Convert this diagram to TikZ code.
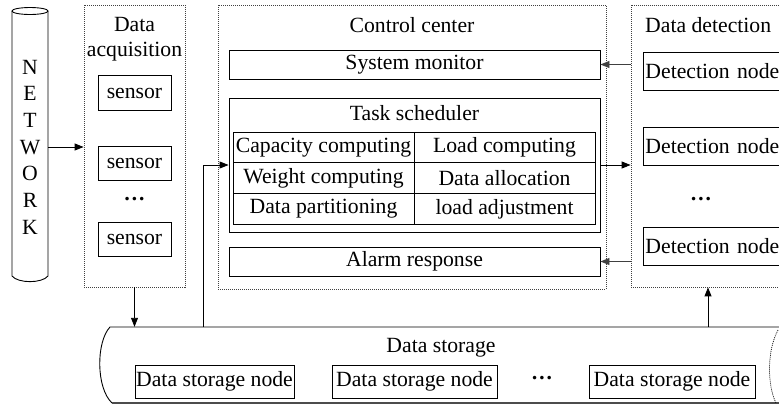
\documentclass[tikz,border=0pt]{standalone}
\usepackage{fontspec}
\setmainfont{Liberation Serif}
\usetikzlibrary{arrows.meta}
\newcommand\myfs{\fontsize{21.7}{26.7}\selectfont}
\tikzset{
  box/.style={draw, line width=0.9pt, inner sep=0pt, font=\myfs},
  cont/.style={draw=black!75, line width=0.8pt, dash pattern=on 1pt off 1pt, inner sep=0pt},
  lbl/.style={inner sep=0pt, font=\myfs},
  arr/.style={line width=0.9pt, -{Triangle[length=9pt,width=7pt]}},
}
\begin{document}
\begin{tikzpicture}[x=1pt,y=-1pt]
\useasboundingbox (0,0) rectangle (779,405);
\clip (0,0) rectangle (779,405);

% NETWORK cylinder
\draw[line width=0.9pt] (30,11) ellipse [x radius=18, y radius=3.5];
\draw[line width=0.9pt] (12,11) -- (12,276) .. controls (18,283.5) and (42,283.5) .. (48,276) -- (48,11);
\node[lbl, align=center, minimum width=36pt, minimum height=270pt] (net) at (30,147) {N\\E\\T\\W\\O\\R\\K};

% Data acquisition
\node[cont, minimum width=101pt, minimum height=282pt] (acq) at (134.5,146) {};
\node[lbl, align=center, font=\fontsize{21.7}{25}\selectfont] (acqt) at (134.5,39.5) {Data\\acquisition};
\node[box, minimum width=73pt, minimum height=35pt] (s1) at (134.5,93) {sensor};
\node[box, minimum width=73pt, minimum height=34pt] (s2) at (134.5,163) {sensor};
\node[lbl] (sdots) at (134.5,199) {\textbf{…}};
\node[box, minimum width=73pt, minimum height=34pt] (s3) at (134.5,239) {sensor};

% Control center
\node[cont, minimum width=388pt, minimum height=284pt] (cc) at (412,147) {};
\node[lbl] (cct) at (412,25) {Control center};
\node[box, minimum width=371pt, minimum height=29pt] (sysmon) at (414.5,64.5) {System monitor};
\node[draw, line width=0.9pt, inner sep=0pt, minimum width=371pt, minimum height=134pt] (task) at (414.5,165) {};
\node[lbl] (taskt) at (414.5,113) {Task scheduler};
\node[box, minimum width=181pt, minimum height=30.7pt] (c11) at (323.5,147.5) {Capacity computing};
\node[box, minimum width=181pt, minimum height=30.7pt] (c12) at (504.5,147.5) {Load computing};
\node[box, minimum width=181pt, minimum height=30.7pt] (c21) at (323.5,178.2) {Weight computing};
\node[box, minimum width=181pt, minimum height=30.7pt] (c22) at (504.5,178.2) {Data allocation};
\node[box, minimum width=181pt, minimum height=30.7pt] (c31) at (323.5,208.9) {Data partitioning};
\node[box, minimum width=181pt, minimum height=30.7pt] (c32) at (504.5,208.9) {load adjustment};
\node[box, minimum width=371pt, minimum height=29pt] (alarm) at (414.5,261.5) {Alarm response};

% Data detection
\node[cont, minimum width=180pt, minimum height=282pt] (det) at (721,146) {};
\node[lbl, anchor=west] (dett) at (645,25) {Data detection};
\node[box, anchor=west, minimum height=38pt, text width=160pt, inner xsep=2pt, align=left] (d1) at (643,71) {Detection node};
\node[box, anchor=west, minimum height=38pt, text width=160pt, inner xsep=2pt, align=left] (d2) at (643,146) {Detection node};
\node[lbl] (ddots) at (701,199) {\textbf{…}};
\node[box, anchor=west, minimum height=38pt, text width=160pt, inner xsep=2pt, align=left] (d3) at (643,246.5) {Detection node};

% Data storage cylinder
\node[inner sep=0pt, minimum width=679pt, minimum height=76pt] (stor) at (439.5,365) {};
\draw[line width=0.9pt] (779,327) -- (110,327) .. controls (96,342) and (96,388) .. (112,403);
\draw[line width=1.8pt, black!70] (112,403) -- (779,403);
\draw[line width=0.7pt, dash pattern=on 1pt off 1pt] (778,330) .. controls (767,350) and (767,385) .. (776,403);
\node[lbl] (stort) at (441,348) {Data storage};
\node[box, minimum width=159pt, minimum height=33pt] (n1) at (214.5,381.5) {Data storage node};
\node[box, minimum width=165pt, minimum height=33pt] (n2) at (414.5,381.5) {Data storage node};
\node[lbl] (ndots) at (542,378) {\textbf{…}};
\node[box, minimum width=166pt, minimum height=33pt] (n3) at (672,381.5) {Data storage node};

% connectors
\coordinate (tapA) at (203,327);
\coordinate (tapB) at (708,327);
\draw[arr] (net.east |- 0,147) -- (acq.west |- 0,147);
\draw[arr] (acq.south) -- (acq.south |- stor.north);
\draw[arr] (tapA) |- (task.west);
\draw[arr] (task.east) -- (task.east -| det.west);
\draw[arr, black!75] (det.west |- sysmon.east) -- (sysmon.east);
\draw[arr, black!75] (det.west |- alarm.east) -- (alarm.east);
\draw[arr] (tapB) -- (tapB |- det.south);
\end{tikzpicture}
\end{document}
